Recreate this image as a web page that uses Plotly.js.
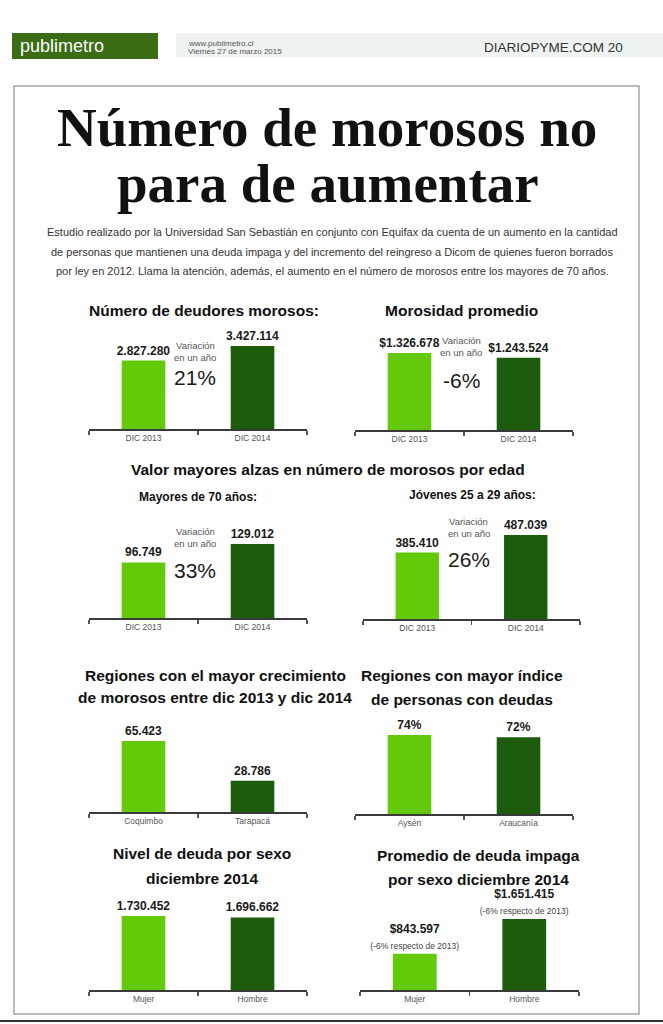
<!DOCTYPE html>
<html>
<head>
<meta charset="utf-8">
<script src="https://cdn.plot.ly/plotly-3.0.1.min.js"></script>
<style>html,body{margin:0;padding:0;background:#fff;}#chart{width:663px;height:1024px;}</style>
</head>
<body>
<div id="chart"></div>
<script>
// ---------- DATA ----------
const fechas = ['DIC 2013', 'DIC 2014'];
const deudores = [2827280, 3427114];
const morosidad = [1326678, 1243524];
const mayores70 = [96749, 129012];
const jovenes = [385410, 487039];
const regionesCrec = ['Coquimbo', 'Tarapacá'];
const crecimiento = [65423, 28786];
const regionesIdx = ['Aysén', 'Araucanía'];
const indice = [74, 72];
const sexos = ['Mujer', 'Hombre'];
const deudaSexo = [1730452, 1696662];
const impagaSexo = [843597, 1651415];
const notasImpaga = ['(-6% respecto de 2013)', '(-6% respecto de 2013)'];
const variaciones = ['21%', '-6%', '33%', '26%'];

// ---------- HELPERS ----------
const W = 663, H = 1024;
const X = p => p / W;
const Y = p => 1 - p / H;
const fmt = v => String(v).replace(/\B(?=(\d{3})+(?!\d))/g, '.');
const SANS = '"Liberation Sans", Arial, sans-serif';
const SERIF = '"Liberation Serif", "DejaVu Serif", serif';
const LIGHT = '#64c80b';
const DARK = '#1d5b0d';

const panels = [
  {cats: fechas, vals: deudores, text: deudores.map(v => '<b>' + fmt(v) + '</b>'), x0: 89, x1: 307, base: 429, ymax: 4.129e6},
  {cats: fechas, vals: morosidad, text: morosidad.map(v => '<b>$' + fmt(v) + '</b>'), x0: 355, x1: 573, base: 430, ymax: 1.723e6},
  {cats: fechas, vals: mayores70, text: mayores70.map(v => '<b>' + fmt(v) + '</b>'), x0: 89, x1: 307, base: 618, ymax: 1.743e5},
  {cats: fechas, vals: jovenes, text: jovenes.map(v => '<b>' + fmt(v) + '</b>'), x0: 363, x1: 580, base: 619, ymax: 5.798e5},
  {cats: regionesCrec, vals: crecimiento, text: crecimiento.map(v => '<b>' + fmt(v) + '</b>'), x0: 89, x1: 307, base: 812, ymax: 9.215e4},
  {cats: regionesIdx, vals: indice, text: indice.map(v => '<b>' + v + '%</b>'), x0: 355, x1: 573, base: 814, ymax: 93.67},
  {cats: sexos, vals: deudaSexo, text: deudaSexo.map(v => '<b>' + fmt(v) + '</b>'), x0: 89, x1: 307, base: 990, ymax: 2.338e6},
  {cats: sexos, vals: impagaSexo, text: impagaSexo.map((v, i) => '<b>$' + fmt(v) + '</b><br><span style="font-size:8.5px;color:#444">' + notasImpaga[i] + '</span>'), x0: 360, x1: 579, base: 990, ymax: 2.326e6}
];

const PH = 100; // plot height in px
const traces = [];
const layout = {
  width: W, height: H,
  margin: {l: 0, r: 0, t: 0, b: 0},
  paper_bgcolor: '#ffffff', plot_bgcolor: 'rgba(0,0,0,0)',
  showlegend: false,
  annotations: [], shapes: []
};

panels.forEach((p, i) => {
  const n = i === 0 ? '' : String(i + 1);
  traces.push({
    type: 'bar',
    x: p.cats.map((_, k) => k),
    y: p.vals,
    xaxis: 'x' + n, yaxis: 'y' + n,
    width: 0.4,
    marker: {color: [LIGHT, DARK]},
    text: p.text,
    textposition: 'outside',
    textfont: {family: SANS, size: 12, color: '#1a1a1a'},
    cliponaxis: false,
    constraintext: 'none',
    hoverinfo: 'skip'
  });
  layout['xaxis' + n] = {
    domain: [X(p.x0), X(p.x1)],
    anchor: 'y' + n,
    range: [-0.5, 1.5],
    showgrid: false, zeroline: false,
    showline: true, linecolor: '#3a3a3a', linewidth: 2,
    tickmode: 'array', tickvals: [0, 1], ticktext: p.cats,
    ticks: '',
    tickfont: {family: SANS, size: 8.5, color: '#555'},
    minor: {tickmode: 'array', tickvals: [-0.5, 0.5, 1.5], ticks: 'outside', ticklen: 4, tickwidth: 1.5, tickcolor: '#555', showgrid: false},
    fixedrange: true
  };
  layout['yaxis' + n] = {
    domain: [Y(p.base), Y(p.base - PH)],
    anchor: 'x' + n,
    range: [0, p.ymax],
    visible: false,
    fixedrange: true
  };
});

const ann = layout.annotations;
function txt(text, x, y, size, opts) {
  opts = opts || {};
  ann.push(Object.assign({
    text: text, x: X(x), y: Y(y), xref: 'paper', yref: 'paper',
    xanchor: 'center', yanchor: 'middle', showarrow: false,
    font: {family: opts.family || SANS, size: size, color: opts.color || '#111'}
  }, opts.extra || {}));
}

// Header
layout.shapes.push({type: 'rect', xref: 'paper', yref: 'paper', x0: X(12), x1: X(158), y0: Y(59), y1: Y(33), fillcolor: '#3b6d17', line: {width: 0}, layer: 'below'});
layout.shapes.push({type: 'rect', xref: 'paper', yref: 'paper', x0: X(176), x1: X(663), y0: Y(57), y1: Y(33), fillcolor: '#eef3f2', line: {width: 0}, layer: 'below'});
layout.shapes.push({type: 'rect', xref: 'paper', yref: 'paper', x0: X(14), x1: X(639), y0: Y(1014), y1: Y(86), line: {color: '#a5a5a5', width: 1.5}, layer: 'below'});
layout.shapes.push({type: 'line', xref: 'paper', yref: 'paper', x0: 0, x1: 1, y0: Y(1021), y1: Y(1021), line: {color: '#333', width: 2}});

txt('publimetro', 18, 46, 18, {color: '#ffffff', extra: {xanchor: 'left'}});
txt('www.publimetro.cl', 186, 43, 8, {color: '#555', extra: {xanchor: 'left'}});
txt('Viernes 27 de marzo 2015', 186, 51, 8, {color: '#555', extra: {xanchor: 'left'}});
txt('DIARIOPYME.COM 20', 625, 47, 13.5, {color: '#333', extra: {xanchor: 'right'}});

// Main title
txt('<b>Número de morosos no</b>', 327, 127, 55, {family: SERIF, color: '#111'});
txt('<b>para de aumentar</b>', 328, 183, 55, {family: SERIF, color: '#111'});

// Intro paragraph
txt('Estudio realizado por la Universidad San Sebastián en conjunto con Equifax da cuenta de un aumento en la cantidad', 332, 232, 11, {color: '#333'});
txt('de personas que mantienen una deuda impaga y del incremento del reingreso a Dicom de quienes fueron borrados', 332, 252, 11, {color: '#333'});
txt('por ley en 2012. Llama la atención, además, el aumento en el número de morosos entre los mayores de 70 años.', 332, 271, 11, {color: '#333'});

// Panel titles
const TS = 15.5;
txt('<b>Número de deudores morosos:</b>', 204, 310, TS);
txt('<b>Morosidad promedio</b>', 461, 310, TS);
txt('<b>Valor mayores alzas en número de morosos por edad</b>', 328, 469, TS);
txt('<b>Mayores de 70 años:</b>', 198, 497, 12);
txt('<b>Jóvenes 25 a 29 años:</b>', 472, 495, 12);
txt('<b>Regiones con el mayor crecimiento</b>', 215, 675, TS);
txt('<b>de morosos entre dic 2013 y dic 2014</b>', 215, 697, TS);
txt('<b>Regiones con mayor índice</b>', 462, 675, TS);
txt('<b>de personas con deudas</b>', 462, 699, TS);
txt('<b>Nivel de deuda por sexo</b>', 202, 853, TS);
txt('<b>diciembre 2014</b>', 202, 878, TS);
txt('<b>Promedio de deuda impaga</b>', 478, 855, TS);
txt('<b>por sexo diciembre 2014</b>', 478, 879, TS);

// Variation notes (centered between bars of each panel)
const varY = [[345, 357, 377], [340, 352, 380], [531, 543, 570], [521, 533, 559]];
variaciones.forEach((v, i) => {
  const xr = i === 0 ? 'x' : 'x' + (i + 1);
  const yy = varY[i];
  const base = {xref: xr, yref: 'paper', x: 0.5, xshift: -3, showarrow: false, xanchor: 'center', yanchor: 'middle'};
  ann.push(Object.assign({}, base, {text: 'Variación', y: Y(yy[0]), font: {family: SANS, size: 9.5, color: '#555'}}));
  ann.push(Object.assign({}, base, {text: 'en un año', y: Y(yy[1]), font: {family: SANS, size: 9.5, color: '#555'}}));
  ann.push(Object.assign({}, base, {text: v, y: Y(yy[2]), font: {family: SANS, size: 21, color: '#1a1a1a'}}));
});

Plotly.newPlot('chart', traces, layout, {staticPlot: true, displayModeBar: false});
</script>
</body>
</html>
